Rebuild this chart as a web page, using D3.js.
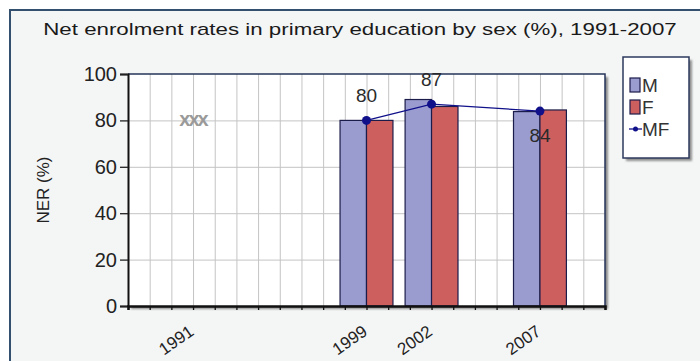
<!DOCTYPE html>
<html>
<head>
<meta charset="utf-8">
<script src="https://cdn.jsdelivr.net/npm/d3@7"></script>
<style>
  html, body { margin: 0; padding: 0; background: #ffffff; }
  svg { display: block; font-family: "Liberation Sans", Arial, sans-serif; }
</style>
</head>
<body>
<svg id="chart" width="700" height="361"></svg>
<script>
// Net enrolment rates (%) by survey year
const years = [1991, 1999, 2002, 2007];
const male = [null, 80, 89, 83.8];
const female = [null, 80, 86, 84.5];
const total = [null, 80, 87, 84];
const yTicks = [0, 20, 40, 60, 80, 100];
const seriesNames = ["M", "F", "MF"];
const missingMark = "xxx";

const W = 700, H = 361;
const plot = { left: 128, right: 605, top: 74, bottom: 306 };
const colors = { M: "#9a9ccf", F: "#cd5f5f", MF: "#10108a", edge: "#1c1c4a" };

const svg = d3.select("#chart");

const defs = svg.append("defs");
defs.append("filter").attr("id", "soft")
  .attr("x", "-10%").attr("y", "-10%").attr("width", "130%").attr("height", "130%")
  .append("feGaussianBlur").attr("stdDeviation", 1.2);

// outer panel
svg.append("rect").attr("x", 10).attr("y", 10).attr("width", W + 20).attr("height", H + 20)
  .attr("fill", "#f4f5f5").attr("stroke", "#33506f").attr("stroke-width", 2);

// title, widened to span the panel
const title = svg.append("text").attr("text-anchor", "middle")
  .attr("font-size", 16).attr("fill", "#1a1a1a")
  .text("Net enrolment rates in primary education by sex (%), 1991-2007");
const tw = title.node().getComputedTextLength();
title.attr("transform", `translate(360,35) scale(${634 / tw},1)`);

const x = d3.scaleLinear().domain([1988, 2010]).range([plot.left, plot.right]);
const y = d3.scaleLinear().domain([0, 100]).range([plot.bottom, plot.top]);
const yearW = x(1989) - x(1988);
const barW = yearW * 1.22;

// plot shadow + background
svg.append("rect").attr("x", plot.left + 3).attr("y", plot.top + 3)
  .attr("width", plot.right - plot.left).attr("height", plot.bottom - plot.top)
  .attr("fill", "#8a8a8a").attr("filter", "url(#soft)");
svg.append("rect").attr("x", plot.left).attr("y", plot.top)
  .attr("width", plot.right - plot.left).attr("height", plot.bottom - plot.top)
  .attr("fill", "#ffffff");

// grid
const grid = svg.append("g").attr("stroke", "#c4c4c4").attr("stroke-width", 1);
grid.selectAll("line.v").data(d3.range(1989, 2010)).join("line")
  .attr("x1", d => x(d) + 0.5).attr("x2", d => x(d) + 0.5)
  .attr("y1", plot.top).attr("y2", plot.bottom);
grid.selectAll("line.h").data(yTicks.slice(1, -1)).join("line")
  .attr("x1", plot.left).attr("x2", plot.right)
  .attr("y1", d => y(d) + 0.5).attr("y2", d => y(d) + 0.5);

// bars
const rows = years.map((yr, i) => ({ yr, m: male[i], f: female[i], mf: total[i] }));
const bars = svg.append("g").attr("stroke", colors.edge).attr("stroke-width", 1.2);
bars.selectAll("rect.m").data(rows.filter(d => d.m != null)).join("rect")
  .attr("x", d => x(d.yr) - barW).attr("width", barW)
  .attr("y", d => y(d.m)).attr("height", d => y(0) - y(d.m))
  .attr("fill", colors.M);
bars.selectAll("rect.f").data(rows.filter(d => d.f != null)).join("rect")
  .attr("x", d => x(d.yr)).attr("width", barW)
  .attr("y", d => y(d.f)).attr("height", d => y(0) - y(d.f))
  .attr("fill", colors.F);

// plot frame (top/right)
svg.append("path")
  .attr("d", `M${plot.left},${plot.top}H${plot.right}V${plot.bottom}`)
  .attr("fill", "none").attr("stroke", "#26345a").attr("stroke-width", 1.5);

// MF line
const mfRows = rows.filter(d => d.mf != null);
svg.append("path").datum(mfRows)
  .attr("d", d3.line().x(d => x(d.yr)).y(d => y(d.mf)))
  .attr("fill", "none").attr("stroke", colors.MF).attr("stroke-width", 1.3);
svg.selectAll("circle.mf").data(mfRows).join("circle")
  .attr("cx", d => x(d.yr)).attr("cy", d => y(d.mf)).attr("r", 4.5)
  .attr("fill", colors.MF);
svg.selectAll("text.mf").data(mfRows).join("text")
  .attr("x", (d, i) => x(d.yr))
  .attr("y", (d, i) => i === mfRows.length - 1 ? y(d.mf) + 31 : y(d.mf) - 18)
  .attr("text-anchor", "middle").attr("font-size", 19).attr("fill", "#2a2a2a")
  .text(d => d3.format(".0f")(d.mf));

// missing-value marker
rows.filter(d => d.mf == null).forEach(d => {
  svg.append("text").attr("x", x(d.yr)).attr("y", y(80) + 6)
    .attr("text-anchor", "middle").attr("font-size", 20).attr("font-weight", "bold")
    .attr("letter-spacing", -2).attr("fill", "#9a9a9a").text(missingMark);
});

// y axis
const yAxis = svg.append("g").attr("transform", `translate(${plot.left},0)`)
  .call(d3.axisLeft(y).tickValues(yTicks).tickSize(8).tickPadding(3));
yAxis.select(".domain").attr("stroke", "#111").attr("stroke-width", 2);
yAxis.selectAll(".tick line").attr("stroke", "#222").attr("stroke-width", 1.3);
yAxis.selectAll(".tick text").attr("font-size", 20).attr("fill", "#222")
  .attr("font-family", "Liberation Sans, Arial, sans-serif");

// x axis: a tick for every year, labels on survey years
const xAxis = svg.append("g").attr("transform", `translate(0,${plot.bottom})`)
  .call(d3.axisBottom(x).tickValues(d3.range(1988, 2011)).tickSize(4).tickFormat(""));
xAxis.select(".domain").attr("stroke", "#111").attr("stroke-width", 2.5);
xAxis.selectAll(".tick line").attr("stroke", "#111").attr("stroke-width", 1.3);
svg.append("g").selectAll("text").data(years).join("text")
  .attr("transform", d => `translate(${x(d) + 2},${plot.bottom + 28}) rotate(-35)`)
  .attr("text-anchor", "end").attr("font-size", 17).attr("fill", "#222")
  .text(d => d);

// y title
svg.append("text").attr("transform", "translate(49,190) rotate(-90)")
  .attr("text-anchor", "middle").attr("font-size", 17).attr("fill", "#222")
  .text("NER (%)");

// legend
const lg = svg.append("g").attr("transform", "translate(623,57)");
lg.append("rect").attr("x", 3).attr("y", 3).attr("width", 66).attr("height", 101)
  .attr("fill", "#8f8f8f").attr("filter", "url(#soft)");
lg.append("rect").attr("width", 66).attr("height", 101)
  .attr("fill", "#ffffff").attr("stroke", "#2c3a5c").attr("stroke-width", 1.5);
seriesNames.forEach((name, i) => {
  const cy = 28 + i * 22;
  if (name === "MF") {
    lg.append("line").attr("x1", 6).attr("x2", 19).attr("y1", cy).attr("y2", cy)
      .attr("stroke", colors.MF).attr("stroke-width", 1.3);
    lg.append("circle").attr("cx", 12.5).attr("cy", cy).attr("r", 2.5).attr("fill", colors.MF);
  } else {
    lg.append("rect").attr("x", 7).attr("y", cy - 7).attr("width", 10).attr("height", 14)
      .attr("fill", colors[name]).attr("stroke", colors.edge).attr("stroke-width", 1.2);
  }
  lg.append("text").attr("x", 19).attr("y", cy + 7).attr("font-size", 19)
    .attr("fill", "#333").text(name);
});
</script>
</body>
</html>
